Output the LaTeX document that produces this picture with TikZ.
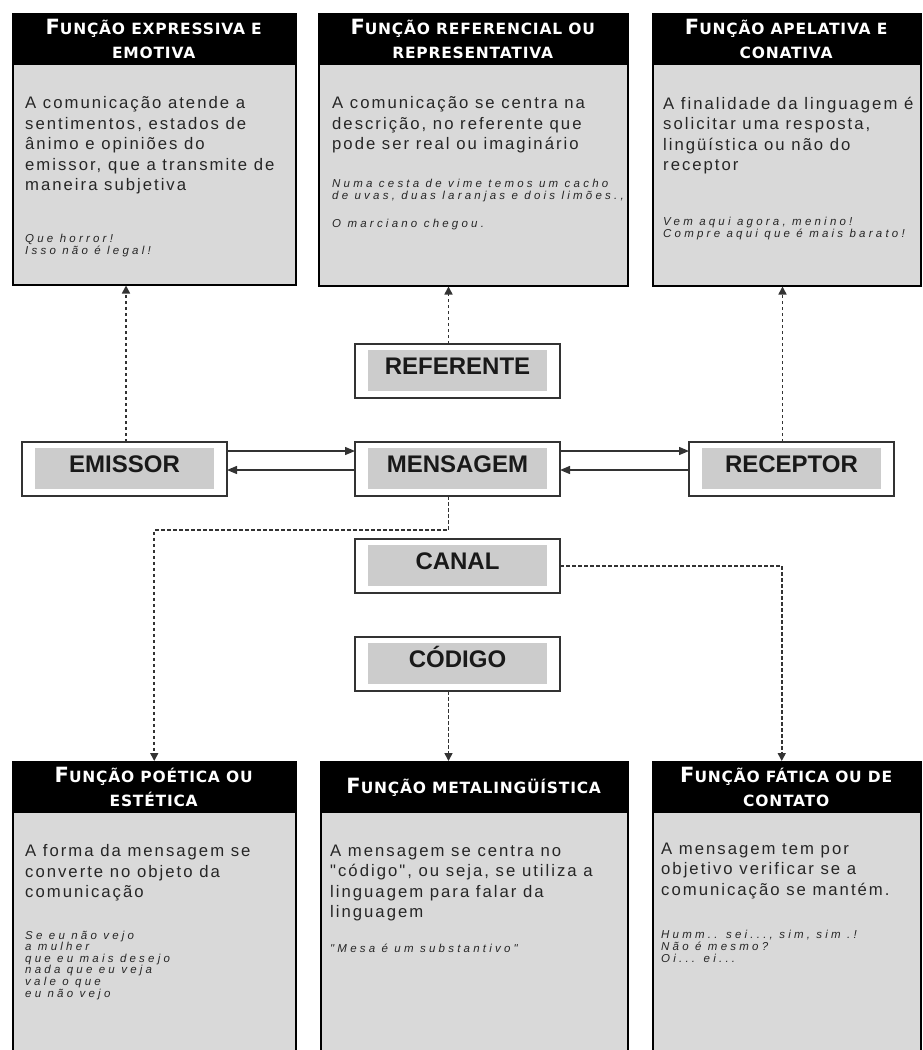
\documentclass[tikz,border=0pt]{standalone}
\usepackage{fontspec}
\setmainfont{Liberation Sans}
\newfontfamily\bodyfont{Liberation Sans}[LetterSpace=12]
\newfontfamily\examplefont{Liberation Sans}[LetterSpace=28]
\newfontfamily\headfont{DejaVu Sans}[LetterSpace=5]
\usetikzlibrary{positioning,arrows.meta}
\definecolor{boxgray}{RGB}{217,217,217}
\definecolor{labelgray}{RGB}{204,204,204}
\newcommand{\funcao}{{\fontsize{21}{24}\selectfont F}UNÇÃO}

\begin{document}
\begin{tikzpicture}%
  [x=1pt,y=-1pt,
   funcbox/.style=
    {draw,line width=1.5pt,fill=boxgray,anchor=north west,inner sep=0pt},
   funchead/.style=
    {fill=black,text=white,anchor=north west,align=center,inner sep=0pt,
     minimum height=52pt,font=\headfont\bfseries\fontsize{15.5}{24}\selectfont},
   bodytext/.style=
    {anchor=north west,inner sep=0pt,align=left,text=black!85,
     font=\bodyfont\fontsize{16.7}{20.5}\selectfont},
   example/.style=
    {anchor=north west,inner sep=0pt,align=left,text=black!85,
     font=\examplefont\itshape\fontsize{11.5}{12}\selectfont},
   agent/.style=
    {draw=black!80,line width=1.5pt,fill=white,minimum width=205pt,
     minimum height=54pt,inner sep=0pt,outer sep=0pt,text=black!90,
     font=\bfseries\fontsize{24}{28}\selectfont,text height=17.2pt,text depth=11pt,
     path picture={\fill[labelgray]
       ([xshift=13pt,yshift=7pt]path picture bounding box.south west) rectangle
       ([xshift=-13pt,yshift=-6pt]path picture bounding box.north east);}},
   flow/.style={line width=1.3pt,draw=black!80,
     -{Stealth[inset=0pt,length=10pt,width=8pt]}},
   link/.style={line width=1.6pt,draw=black!80,dash pattern=on 3.5pt off 2.5pt,
     -{Stealth[inset=0pt,length=8pt,width=8pt]}}
  ]
  \useasboundingbox (0,0) rectangle (923,1050);
  \clip (0,0) rectangle (923,1050);

  % top row
  \node[funcbox,minimum width=283pt,minimum height=271pt] (fexp) at (12,13) {};
  \node[funchead,minimum width=283pt] (hexp) at (fexp.north west)
    {\funcao{} EXPRESSIVA E\\EMOTIVA};
  \node[bodytext] (bexp) at (25,96.5)
    {A comunicação atende a\\sentimentos, estados de\\ânimo e opiniões do\\emissor, que a transmite de\\maneira subjetiva};
  \node[example] (xexp) at (25,233.5) {Que horror!\\Isso não é legal!};

  \node[funcbox,minimum width=309pt,minimum height=272pt] (fref) at (318,13) {};
  \node[funchead,minimum width=309pt] (href) at (fref.north west)
    {\funcao{} REFERENCIAL OU\\REPRESENTATIVA};
  \node[bodytext] (bref) at (332,96.5)
    {A comunicação se centra na\\descrição, no referente que\\pode ser real ou imaginário};
  \node[example] (xref) at (332,178.5)
    {Numa cesta de vime temos um cacho\\de uvas, duas laranjas e dois limões.,\\[16pt]O marciano chegou.};

  \node[funcbox,minimum width=268pt,minimum height=272pt] (fape) at (652,13) {};
  \node[funchead,minimum width=268pt] (hape) at (fape.north west)
    {\funcao{} APELATIVA E\\CONATIVA};
  \node[bodytext] (bape) at (663,96.5)
    {A finalidade da linguagem é\\solicitar uma resposta,\\lingüística ou não do\\receptor};
  \node[example] (xape) at (663,216.5)
    {Vem aqui agora, menino!\\Compre aqui que é mais barato!};

  % elements of communication
  \node[agent] (mensagem) at (457.5,469) {MENSAGEM};
  \node[agent,above=44pt of mensagem] (referente) {REFERENTE};
  \node[agent,below=43pt of mensagem] (canal) {CANAL};
  \node[agent,below=44pt of canal] (codigo) {CÓDIGO};
  \node[agent,left=128pt of mensagem] (emissor) {EMISSOR};
  \node[agent,right=129pt of mensagem] (receptor) {RECEPTOR};

  \draw[flow] ([yshift=18pt]emissor.east) -- ([yshift=18pt]mensagem.west);
  \draw[flow] ([yshift=-1pt]mensagem.west) -- ([yshift=-1pt]emissor.east);
  \draw[flow] ([yshift=18pt]mensagem.east) -- ([yshift=18pt]receptor.west);
  \draw[flow] ([yshift=-1pt]receptor.west) -- ([yshift=-1pt]mensagem.east);

  % bottom row
  \node[funcbox,minimum width=283pt,minimum height=300pt] (fpoe) at (12,761) {};
  \node[funchead,minimum width=283pt] (hpoe) at (fpoe.north west)
    {\funcao{} POÉTICA OU\\ESTÉTICA};
  \node[bodytext] (bpoe) at (25,844.5)
    {A forma da mensagem se\\converte no objeto da\\comunicação};
  \node[example,font=\examplefont\itshape\fontsize{11.5}{11.6}\selectfont] (xpoe) at (25,930.5)
    {Se eu não vejo\\a mulher\\que eu mais desejo\\nada que eu veja\\vale o que\\eu não vejo};

  \node[funcbox,minimum width=307pt,minimum height=300pt] (fmet) at (320,761) {};
  \node[funchead,minimum width=307pt] (hmet) at (fmet.north west)
    {\funcao{} METALINGÜÍSTICA};
  \node[bodytext] (bmet) at (330,844.5)
    {A mensagem se centra no\\"código", ou seja, se utiliza a\\linguagem para falar da\\linguagem};
  \node[example] (xmet) at (330,943.5) {"Mesa é um substantivo"};

  \node[funcbox,minimum width=268pt,minimum height=300pt] (ffat) at (652,761) {};
  \node[funchead,minimum width=268pt] (hfat) at (ffat.north west)
    {\funcao{} FÁTICA OU DE\\CONTATO};
  \node[bodytext] (bfat) at (661,842.5)
    {A mensagem tem por\\objetivo verificar se a\\comunicação se mantém.};
  \node[example] (xfat) at (661,929.5)
    {Humm.. sei..., sim, sim .!\\Não é mesmo?\\Oi... ei...};

  % functions reached from each element
  \coordinate (emup) at ([xshift=1.5pt]emissor.north);
  \draw[link] (emup) -- (emup |- fexp.south);
  \coordinate (reup) at ([xshift=-9pt]referente.north);
  \draw[link] (reup) -- (reup |- fref.south);
  \coordinate (rcup) at ([xshift=-9pt]receptor.north);
  \draw[link] (rcup) -- (rcup |- fape.south);
  \coordinate (medown) at ([xshift=-9pt]mensagem.south);
  \draw[link] (medown) -- ++(0,34) -| (fpoe.north);
  \coordinate (codown) at ([xshift=-9pt]codigo.south);
  \draw[link] (codown) -- (codown |- fmet.north);
  \coordinate (fatin) at ([xshift=-5pt]ffat.north);
  \draw[link] (canal.east) -| (fatin);
\end{tikzpicture}
\end{document}
